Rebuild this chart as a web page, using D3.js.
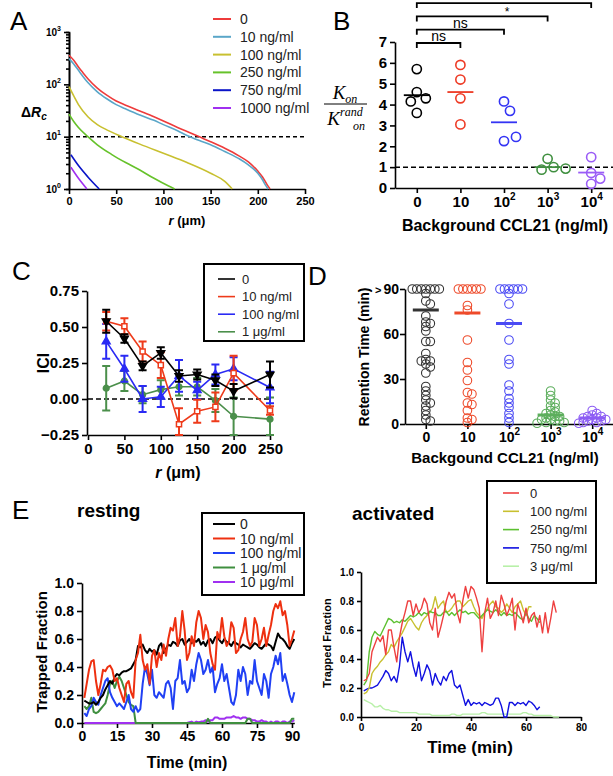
<!DOCTYPE html>
<html>
<head>
<meta charset="utf-8">
<script src="https://cdn.jsdelivr.net/npm/d3@7.9.0/dist/d3.min.js"></script>
<style>
  body { margin: 0; background: #fff; }
  svg { font-family: Arial, "Liberation Sans", Helvetica, sans-serif; }
</style>
</head>
<body>
<svg id="fig" width="613" height="776"></svg>
<script>
// ---------- data ----------
// Panel A: delta Rc vs r, one [r, value] list per background level
const aLabels = ['0', '10 ng/ml', '100 ng/ml', '250 ng/ml', '750 ng/ml', '1000 ng/ml'];
const aColors = ['#ee3b3b', '#5aa6c8', '#c8c030', '#66c22a', '#0a14c8', '#a030f0'];
const aCurve0 = [[0,360],[5,290],[10,215],[15,165],[20,128],[30,85],[40,62],[50,48],[60,40],[75,31],[90,24],[100,20],[115,15],[130,11.5],[140,9.6],[150,8],[165,6],[180,4.3],[190,3.3],[200,2.2],[205,1.7],[210,1.2],[213,1]];
const aCurve10 = [[0,310],[5,245],[10,185],[15,140],[20,108],[30,72],[40,53],[50,41],[60,34],[75,26],[90,20.5],[100,17],[115,13],[125,10.5],[140,8.2],[150,7],[165,5.2],[180,3.8],[190,2.9],[200,2],[205,1.5],[208,1.2],[211,1]];
const aCurve100 = [[0,90],[5,60],[10,41],[20,24],[30,17],[40,13.5],[56,10],[75,7.2],[100,4.8],[125,3.2],[150,2],[165,1.4],[173,1]];
const aCurve250 = [[0,27],[5,19.5],[10,15],[20,10],[30,7],[45,4.6],[60,3.2],[75,2.3],[90,1.6],[105,1.15],[112,1]];
const aCurve750 = [[2,4.5],[10,2.8],[20,1.7],[32,1]];
const aCurve1000 = [[2,2.6],[10,1.6],[19,1]];
const aCurves = [aCurve0, aCurve10, aCurve100, aCurve250, aCurve750, aCurve1000];

// Panel B: Kon / Kon_rand
const bCats = ['0', '10', '100', '1000', '10000'];
const bTicks = [['0',''],['10',''],['10','2'],['10','3'],['10','4']];
const bColors = ['#000000', '#ee3a24', '#3434f4', '#3f8f3f', '#9a5cf6'];
const bValues = [[5.7,4.6,4.3,4.15,3.6],[5.9,5.2,4.3,3.05],[4.15,3.7,2.25,2.45],[1.4,1.0,0.88,0.93],[1.48,0.72,0.2,0.45]];
const bMeans = [4.45, 4.6, 3.15, 1.0, 0.74];
const bBrackets = [['0','10','ns'],['0','100','ns'],['0','1000',''],['0','10000','*']];

// Panel C: ICI vs r
const cR = [25,50,75,100,125,150,175,200,250];
const cLabels = ['0', '10 ng/ml', '100 ng/ml', '1 \u03bcg/ml'];
const cColors = ['#000000', '#ee3a1a', '#2a2af4', '#4b8f4b'];
const cMean0 = [0.54,0.42,0.23,0.32,0.16,0.17,0.13,0.055,0.17];
const cErr0 = [0.08,0.03,0.03,0.04,0.04,0.035,0.04,0.05,0.09];
const cMean10 = [0.54,0.505,0.33,0.235,-0.175,-0.085,-0.055,0.18,-0.08];
const cErr10 = [0.065,0.055,0.07,0.09,0.11,0.08,0.1,0.12,0.03];
const cMean100 = [0.40,0.21,0.0,0.015,0.16,0.06,0.17,0.21,0.08];
const cErr100 = [0.12,0.09,0.09,0.07,0.11,0.06,0.07,0.08,0.11];
const cMean1ug = [0.075,0.125,0.03,0.065,0.085,0.085,-0.01,-0.12,-0.14];
const cErr1ug = [0.155,0.07,0.06,0.065,0.06,0.06,0.08,0.13,0.15];

// Panel D: retention time
const dCats = ['0', '10', '100', '1000', '10000'];
const dColors = ['#333333', '#ee4a2a', '#4a4af4', '#5cae5c', '#8c5cf4'];
const dBlack = [90,90,90,90,90,90,90,87,82,80,72,68,67,65,62,55,55,47,43,42,42,40,38,34,25,22,19,16,14,12,9,6,3,2];
const dRed = [90,90,90,90,90,90,79,76,56,41,36,29,21,20,14,13,9,4,3,1];
const dBlue = [90,90,90,90,90,90,87,80,67,56,43,40,26,22,17,14,11,7,4,1];
const dGreen = [22,19,16,14,12,11,9,8,7,6,5,5,4,3,3,2,2,1,1,0.5];
const dPurple = [9,7,6,5,5,4,4,3,3,2,2,1,1,0.5];
const dMeans = [76, 74, 67, 6, 4];

// Panel E resting: trapped fraction, one value per minute from t = 1
const eRestLabels = ['0', '10 ng/ml', '100 ng/ml', '1 \u03bcg/ml', '10 \u03bcg/ml'];
const eRestColors = ['#000000', '#ee3010', '#2040f4', '#3f8f3f', '#a030f0'];
const eRest0 = [0.16,0.15,0.14,0.14,0.15,0.13,0.15,0.18,0.2,0.24,
  0.27,0.3,0.28,0.33,0.35,0.34,0.36,0.37,0.37,0.38,
  0.39,0.42,0.45,0.55,0.54,0.56,0.52,0.5,0.53,0.51,
  0.52,0.49,0.55,0.57,0.5,0.53,0.56,0.55,0.58,0.57,
  0.55,0.59,0.6,0.56,0.58,0.6,0.57,0.59,0.58,0.6,
  0.56,0.58,0.55,0.59,0.6,0.57,0.61,0.62,0.59,0.57,
  0.6,0.58,0.57,0.55,0.58,0.57,0.56,0.54,0.56,0.55,
  0.54,0.53,0.55,0.57,0.56,0.54,0.53,0.55,0.57,0.56,
  0.55,0.52,0.58,0.64,0.61,0.6,0.58,0.55,0.53,0.57,0.6];
const eRest10 = [0.18,0.28,0.38,0.44,0.45,0.3,0.2,0.28,0.38,0.37,
  0.4,0.41,0.38,0.3,0.32,0.25,0.2,0.15,0.28,0.3,
  0.22,0.18,0.45,0.5,0.63,0.45,0.38,0.42,0.28,0.48,
  0.52,0.4,0.5,0.45,0.56,0.48,0.6,0.68,0.66,0.75,
  0.55,0.62,0.8,0.66,0.45,0.5,0.62,0.55,0.72,0.8,
  0.75,0.6,0.7,0.65,0.5,0.42,0.38,0.65,0.6,0.75,
  0.62,0.55,0.58,0.72,0.68,0.5,0.52,0.6,0.65,0.75,
  0.6,0.55,0.58,0.75,0.7,0.55,0.6,0.68,0.55,0.63,
  0.7,0.8,0.85,0.82,0.87,0.77,0.8,0.7,0.55,0.6,0.66];
const eRest100 = [0.07,0.05,0.1,0.12,0.18,0.15,0.13,0.2,0.25,0.3,
  0.32,0.22,0.18,0.15,0.12,0.14,0.12,0.1,0.15,0.2,
  0.1,0.08,0.12,0.08,0.1,0.28,0.4,0.35,0.27,0.38,
  0.2,0.18,0.22,0.2,0.18,0.28,0.3,0.25,0.1,0.3,
  0.32,0.45,0.28,0.3,0.22,0.25,0.38,0.3,0.42,0.5,
  0.45,0.35,0.38,0.45,0.36,0.4,0.22,0.28,0.32,0.42,
  0.3,0.35,0.25,0.15,0.13,0.2,0.38,0.3,0.4,0.35,
  0.2,0.3,0.28,0.45,0.3,0.25,0.2,0.35,0.3,0.18,
  0.35,0.4,0.48,0.42,0.5,0.3,0.35,0.28,0.2,0.15,0.22];
const eRest1ug = [0.12,0.1,0.12,0.18,0.08,0.07,0.08,0.1,0.12,0.14,
  0.2,0.28,0.3,0.25,0.3,0.33,0.3,0.25,0.2,0.15,
  0.13,0.12,0,0,0,0,0,0,0,0,
  0,0,0,0,0,0,0,0,0,0,
  0,0,0,0,0,0,0,0,0,0,
  0,0,0,0.03,0,0,0,0,0,0,
  0,0,0,0,0,0,0,0,0,0,
  0.03,0.03,0,0,0,0,0,0,0,0,
  0,0,0,0,0,0,0,0,0,0.03,0.03];
const eRest10ug = [0,0,0,0,0,0,0,0,0,0,
  0,0,0,0,0,0,0,0,0,0,
  0,0,0,0,0,0,0,0,0,0,
  0,0,0,0,0,0,0,0,0,0,
  0,0,0,0,0,0.005,0.01,0,0.01,0.005,
  0.01,0.01,0.02,0.01,0.02,0.02,0.04,0.04,0.03,0.03,
  0.03,0.04,0.04,0.04,0.05,0.04,0.04,0.03,0.04,0.04,
  0.03,0.03,0.02,0.02,0.01,0.01,0.02,0.01,0.01,0,
  0.01,0,0.01,0.01,0,0.01,0.01,0,0.01,0.01,0.02];
const eRestSeries = [eRest0, eRest10, eRest100, eRest1ug, eRest10ug];

// Panel E activated
const eActLabels = ['0', '100 ng/ml', '250 ng/ml', '750 ng/ml', '3 \u03bcg/ml'];
const eActColors = ['#ee4040', '#c8c030', '#5cc030', '#1010e0', '#b8f0a8'];
const eAct0 = [0.25,0.26,0.3,0.45,0.5,0.55,0.52,0.56,0.43,0.6,
  0.6,0.48,0.38,0.55,0.65,0.72,0.8,0.8,0.7,0.78,
  0.72,0.75,0.82,0.78,0.65,0.6,0.75,0.55,0.62,0.7,
  0.8,0.86,0.82,0.85,0.72,0.65,0.8,0.9,0.82,0.9,
  0.88,0.82,0.75,0.45,0.72,0.82,0.68,0.72,0.8,0.7,
  0.84,0.78,0.7,0.75,0.82,0.6,0.78,0.72,0.65,0.75,
  0.65,0.7,0.72,0.62,0.7,0.58,0.72,0.58,0.68,0.8,0.72];
const eAct100 = [0.16,0.17,0.2,0.3,0.33,0.35,0.38,0.4,0.43,0.45,
  0.5,0.48,0.52,0.55,0.58,0.62,0.66,0.68,0.65,0.62,
  0.6,0.65,0.68,0.7,0.72,0.75,0.83,0.75,0.78,0.8,
  0.72,0.73,0.75,0.78,0.8,0.8,0.76,0.78,0.8,0.81,
  0.76,0.72,0.7,0.68,0.72,0.75,0.78,0.8,0.76,0.75,
  0.72,0.74,0.78,0.75,0.72,0.76,0.78,0.8,0.74,0.7,0.76,0.76];
const eAct250 = [0.22,0.25,0.45,0.55,0.59,0.57,0.56,0.6,0.64,0.68,
  0.67,0.65,0.66,0.65,0.67,0.66,0.68,0.7,0.69,0.7,
  0.72,0.7,0.72,0.71,0.73,0.72,0.72,0.7,0.7,0.72,
  0.73,0.7,0.72,0.7,0.72,0.74,0.72,0.73,0.71,0.72,
  0.72,0.7,0.68,0.7,0.72,0.74,0.73,0.72,0.74,0.72,
  0.7,0.72,0.7,0.71,0.7,0.72,0.7,0.68,0.67,0.72,
  0.68,0.66,0.7,0.68,0.65];
const eAct750 = [0.18,0.19,0.2,0.2,0.21,0.22,0.25,0.28,0.32,0.3,
  0.25,0.28,0.24,0.35,0.55,0.45,0.38,0.45,0.35,0.28,
  0.38,0.25,0.3,0.36,0.32,0.22,0.3,0.25,0.22,0.28,
  0.25,0.3,0.32,0.22,0.2,0.22,0.15,0.08,0.12,0.08,
  0.1,0.09,0.1,0.08,0.1,0.09,0.08,0.09,0.13,0.13,
  0.08,0,0,0.1,0.1,0.08,0.1,0.09,0.1,0.08,
  0.11,0.1,0.08,0.05,0.07];
const eAct3ug = [0.12,0.11,0.1,0.09,0.07,0.07,0.08,0.06,0.05,0.05,
  0.04,0.04,0.04,0.03,0.03,0.03,0.03,0.03,0.03,0.03,
  0.02,0.02,0.02,0.02,0.02,0.01,0.01,0.01,0.01,0.01,
  0.01,0.01,0.02,0.02,0.01,0.01,0.02,0.02,0.02,0.02,
  0.02,0.02,0.02,0.03,0.03,0.02,0.02,0.02,0.02,0.02,
  0.02,0.02,0.02,0.02,0.02,0.02,0.02,0.02,0.03,0.03,
  0.02,0.02,0.01,0.01,0.01,0.01,0.01,0.01,0.01,0,0,0];
const eActSeries = [eAct0, eAct100, eAct250, eAct750, eAct3ug];

// ---------- helpers ----------
const svg = d3.select('#fig');
const FONT = 'Arial, "Liberation Sans", Helvetica, sans-serif';

function styleAxis(g, size, weight) {
  g.attr('font-family', FONT);
  g.select('.domain').attr('stroke', '#000').attr('stroke-width', 1.6);
  g.selectAll('.tick line').attr('stroke', '#000').attr('stroke-width', 1.6);
  g.selectAll('.tick text').attr('font-size', size).attr('font-weight', weight).attr('fill', '#000');
}

function supText(sel, base, exp, supSize) {
  sel.text(null);
  sel.append('tspan').text(base);
  if (exp) sel.append('tspan').attr('dy', -supSize * 0.7).attr('font-size', supSize).text(exp);
}

function addText(x, y, txt, size, weight, anchor) {
  return svg.append('text').attr('x', x).attr('y', y).attr('font-size', size)
    .attr('font-weight', weight || 'normal').attr('text-anchor', anchor || 'start')
    .attr('font-family', FONT).attr('fill', '#000').text(txt);
}

function drawLegend(labels, colors, x1, x2, tx, y0, dy, size, sw) {
  labels.forEach((lab, i) => {
    const y = y0 + i * dy;
    svg.append('line').attr('x1', x1).attr('x2', x2).attr('y1', y).attr('y2', y)
      .attr('stroke', colors[i]).attr('stroke-width', sw);
    addText(tx, y + size * 0.36, lab, size, 'normal').attr('fill', '#222');
  });
}

// place points of one column so they do not overlap too much
function swarm(values, yScale, cx, minDist, step) {
  const placed = [];
  values.forEach(v => {
    const y = yScale(v);
    for (let k = 0; k < 40; k++) {
      const off = k === 0 ? 0 : Math.ceil(k / 2) * step * (k % 2 ? 1 : -1);
      const x = cx + off;
      if (placed.every(p => Math.hypot(p.x - x, p.y - y) >= minDist - 0.01)) {
        placed.push({ x, y, v });
        break;
      }
    }
  });
  return placed;
}

// ---------- Panel A ----------
const xA = d3.scaleLinear().domain([0, 250]).range([69, 305]);
const yA = d3.scaleLog().domain([1, 1000]).range([189, 32]);

const minorA = [];
[1, 10, 100].forEach(b => d3.range(2, 10).forEach(m => minorA.push(b * m)));
svg.append('g').attr('transform', 'translate(69,0)')
  .call(d3.axisLeft(yA).tickValues(minorA).tickSize(3).tickFormat(''))
  .call(g => styleAxis(g, 10, 'bold'));
svg.append('g').attr('transform', 'translate(69,0)')
  .call(d3.axisLeft(yA).tickValues([1, 10, 100, 1000]).tickSize(5).tickSizeOuter(0))
  .call(g => styleAxis(g, 10, 'bold'))
  .call(g => g.selectAll('.tick text').each(function(d) {
    supText(d3.select(this), '10', String(Math.round(Math.log10(d))), 7);
  }));
svg.append('g').attr('transform', 'translate(0,189)')
  .call(d3.axisBottom(xA).tickValues([0, 50, 100, 150, 200, 250]).tickSize(5).tickSizeOuter(0))
  .call(g => styleAxis(g, 11, 'bold'));

svg.append('line').attr('x1', xA(0)).attr('x2', xA(250)).attr('y1', yA(10)).attr('y2', yA(10))
  .attr('stroke', '#000').attr('stroke-width', 1.5).attr('stroke-dasharray', '4,3');

const lineA = d3.line().x(d => xA(d[0])).y(d => yA(d[1])).curve(d3.curveMonotoneX);
aCurves.forEach((c, i) => {
  svg.append('path').attr('d', lineA(c)).attr('fill', 'none')
    .attr('stroke', aColors[i]).attr('stroke-width', 1.6);
});

drawLegend(aLabels, aColors, 213, 231, 240, 19, 17.8, 14, 2);
addText(10, 30, 'A', 26, 'normal');
const aY = addText(21, 117, '\u0394', 14, 'bold');
aY.append('tspan').attr('font-style', 'italic').text('R');
aY.append('tspan').attr('font-style', 'italic').attr('font-size', 10).attr('dy', 3).text('c');
const aX = addText(187, 225, '', 13, 'bold', 'middle');
aX.append('tspan').attr('font-style', 'italic').text('r');
aX.append('tspan').text(' (\u03bcm)');

// ---------- Panel B ----------
const xB = d3.scalePoint().domain(bCats).range([395, 613]).padding(0.5);
const yB = d3.scaleLinear().domain([0, 7]).range([188, 42]);

svg.append('g').attr('transform', 'translate(395,0)')
  .call(d3.axisLeft(yB).ticks(7).tickSize(5).tickSizeOuter(0))
  .call(g => styleAxis(g, 15, 'bold'));
svg.append('g').attr('transform', 'translate(0,188)')
  .call(d3.axisBottom(xB).tickSize(5).tickSizeOuter(0))
  .call(g => styleAxis(g, 15, 'bold'))
  .call(g => g.selectAll('.tick text').each(function(d, i) {
    supText(d3.select(this), bTicks[i][0], bTicks[i][1], 10);
  }));

svg.append('line').attr('x1', 395).attr('x2', 613).attr('y1', yB(1)).attr('y2', yB(1))
  .attr('stroke', '#000').attr('stroke-width', 1.5).attr('stroke-dasharray', '5,3');

bCats.forEach((c, i) => {
  const pts = swarm(bValues[i], yB, xB(c), 10, 3);
  svg.append('g').selectAll('circle').data(pts).join('circle')
    .attr('cx', d => d.x).attr('cy', d => d.y).attr('r', 4.6)
    .attr('fill', 'none').attr('stroke', bColors[i]).attr('stroke-width', 1.6);
  svg.append('line').attr('x1', xB(c) - 13).attr('x2', xB(c) + 13)
    .attr('y1', yB(bMeans[i])).attr('y2', yB(bMeans[i]))
    .attr('stroke', bColors[i]).attr('stroke-width', 1.8);
});

bBrackets.forEach((b, i) => {
  const y = 43 - i * 13.3;
  const x0 = xB(b[0]), x1 = xB(b[1]);
  svg.append('path').attr('d', `M${x0},${y + 5}V${y}H${x1}V${y + 5}`)
    .attr('fill', 'none').attr('stroke', '#000').attr('stroke-width', 1.8);
  if (b[2] === 'ns') addText((x0 + x1) / 2, y - 2, 'ns', 14, 'normal', 'middle');
  if (b[2] === '*') addText((x0 + x1) / 2 + 3, y + 13, '*', 12, 'normal', 'middle');
});

addText(333, 30, 'B', 26, 'normal');
const SERIF = '"Liberation Serif", "DejaVu Serif", serif';
const bNum = svg.append('text').attr('x', 345).attr('y', 99).attr('text-anchor', 'middle')
  .attr('font-family', SERIF).attr('font-style', 'italic').attr('font-size', 19);
bNum.append('tspan').text('K');
bNum.append('tspan').attr('font-size', 12).attr('dy', 4).text('on');
svg.append('line').attr('x1', 324).attr('x2', 367).attr('y1', 104).attr('y2', 104)
  .attr('stroke', '#000').attr('stroke-width', 1);
const bDen = svg.append('text').attr('x', 345).attr('y', 125).attr('text-anchor', 'middle')
  .attr('font-family', SERIF).attr('font-style', 'italic').attr('font-size', 19);
bDen.append('tspan').text('K');
bDen.append('tspan').attr('font-size', 12).attr('dy', -9).text('rand');
bDen.append('tspan').attr('font-size', 12).attr('x', 353).attr('dy', 14).attr('text-anchor', 'start').text('on');
addText(505, 231, 'Background CCL21 (ng/ml)', 16, 'bold', 'middle');

// ---------- Panel C ----------
const xC = d3.scaleLinear().domain([0, 250]).range([88, 270]);
const yC = d3.scaleLinear().domain([-0.25, 0.75]).range([435, 291]);

svg.append('g').attr('transform', 'translate(87,0)')
  .call(d3.axisLeft(yC).tickValues([-0.25, 0, 0.25, 0.5, 0.75]).tickFormat(d3.format('.2f')).tickSize(5).tickSizeOuter(0))
  .call(g => styleAxis(g, 15, 'bold'));
svg.append('g').attr('transform', 'translate(0,435)')
  .call(d3.axisBottom(xC).tickValues([0, 50, 100, 150, 200, 250]).tickSize(5).tickSizeOuter(0))
  .call(g => styleAxis(g, 15, 'bold'));

svg.append('line').attr('x1', 88).attr('x2', 270).attr('y1', yC(0)).attr('y2', yC(0))
  .attr('stroke', '#000').attr('stroke-width', 1.5).attr('stroke-dasharray', '5,3');

const cSeries = [
  { m: cMean1ug, e: cErr1ug, c: 3, sym: d3.symbolCircle, fill: true, rot: 0 },
  { m: cMean100, e: cErr100, c: 2, sym: d3.symbolTriangle, fill: true, rot: 0 },
  { m: cMean10, e: cErr10, c: 1, sym: d3.symbolSquare, fill: false, rot: 0 },
  { m: cMean0, e: cErr0, c: 0, sym: d3.symbolTriangle, fill: true, rot: 180 }
];
const lineC = d3.line().x((d, i) => xC(cR[i])).y(d => yC(d));
const clampC = v => Math.max(-0.25, Math.min(0.75, v));
cSeries.forEach(s => {
  const col = cColors[s.c];
  const g = svg.append('g');
  g.append('path').attr('d', lineC(s.m)).attr('fill', 'none').attr('stroke', col).attr('stroke-width', 1.6);
  s.m.forEach((v, i) => {
    const x = xC(cR[i]);
    const yt = yC(clampC(v + s.e[i])), yb = yC(clampC(v - s.e[i]));
    g.append('path').attr('d', `M${x},${yt}V${yb}M${x - 4},${yt}H${x + 4}M${x - 4},${yb}H${x + 4}`)
      .attr('stroke', col).attr('stroke-width', 2).attr('fill', 'none');
    g.append('path').attr('d', d3.symbol(s.sym, 26)())
      .attr('transform', `translate(${x},${yC(v)}) rotate(${s.rot})`)
      .attr('fill', s.fill ? col : '#fff').attr('stroke', col).attr('stroke-width', 1.5);
  });
});

svg.append('rect').attr('x', 204).attr('y', 264).attr('width', 100).attr('height', 77)
  .attr('fill', '#fff').attr('stroke', '#000').attr('stroke-width', 2);
drawLegend(cLabels, cColors, 218, 235, 242, 279, 17.6, 13, 1.6);
addText(12, 280, 'C', 26, 'normal');
addText(0, 0, 'ICI', 16, 'bold', 'middle').attr('transform', 'translate(49,363) rotate(-90)');
const cX = addText(178, 478, '', 16, 'bold', 'middle');
cX.append('tspan').attr('font-style', 'italic').text('r');
cX.append('tspan').text(' (\u03bcm)');

// ---------- Panel D ----------
const xD = d3.scalePoint().domain(dCats).range([405, 613]).padding(0.5);
const yD = d3.scaleLinear().domain([0, 90]).range([424, 289]);

svg.append('g').attr('transform', 'translate(405,0)')
  .call(d3.axisLeft(yD).tickValues([0, 30, 60, 90]).tickSize(5).tickPadding(1).tickSizeOuter(0))
  .call(g => styleAxis(g, 14, 'bold'))
  .call(g => g.selectAll('.tick text').filter(d => d === 90).each(function() {
    const t = d3.select(this);
    t.text(null);
    t.append('tspan').attr('font-size', 11).text('>');
    t.append('tspan').attr('dx', 2).text('90');
  }));
svg.append('g').attr('transform', 'translate(0,424)')
  .call(d3.axisBottom(xD).tickSize(5).tickSizeOuter(0))
  .call(g => styleAxis(g, 14, 'bold'))
  .call(g => g.selectAll('.tick text').each(function(d, i) {
    supText(d3.select(this), bTicks[i][0], bTicks[i][1], 10);
  }));

[dBlack, dRed, dBlue, dGreen, dPurple].forEach((vals, i) => {
  const pts = swarm(vals, yD, xD(dCats[i]), 4.5, 4.5);
  svg.append('g').selectAll('circle').data(pts).join('circle')
    .attr('cx', d => d.x).attr('cy', d => d.y).attr('r', 4.3)
    .attr('fill', 'none').attr('stroke', dColors[i]).attr('stroke-width', 1.1);
  svg.append('line').attr('x1', xD(dCats[i]) - 13).attr('x2', xD(dCats[i]) + 13)
    .attr('y1', yD(dMeans[i])).attr('y2', yD(dMeans[i]))
    .attr('stroke', dColors[i]).attr('stroke-width', 3);
});

addText(308, 285, 'D', 26, 'normal');
addText(0, 0, 'Retention Time (min)', 14, 'bold', 'middle').attr('transform', 'translate(369,357) rotate(-90)');
addText(505, 463, 'Backgound CCL21 (ng/ml)', 15, 'bold', 'middle');

// ---------- Panel E resting ----------
const xE1 = d3.scaleLinear().domain([0, 91]).range([82, 294.3]);
const yE1 = d3.scaleLinear().domain([0, 1]).range([723, 583]);

svg.append('g').attr('transform', 'translate(82,0)')
  .call(d3.axisLeft(yE1).tickValues([0, 0.2, 0.4, 0.6, 0.8, 1]).tickFormat(d3.format('.1f')).tickSize(5).tickSizeOuter(0))
  .call(g => styleAxis(g, 14, 'bold'));
svg.append('g').attr('transform', 'translate(0,723)')
  .call(d3.axisBottom(xE1).tickValues([0, 15, 30, 45, 60, 75, 90]).tickSize(5).tickSizeOuter(0))
  .call(g => styleAxis(g, 14, 'bold'));

const lineE1 = d3.line().x((d, i) => xE1(i + 1)).y(d => yE1(d));
[4, 3, 2, 0, 1].forEach(k => {
  svg.append('path').attr('d', lineE1(eRestSeries[k])).attr('fill', 'none')
    .attr('stroke', eRestColors[k]).attr('stroke-width', 2).attr('stroke-linejoin', 'round');
});

svg.append('rect').attr('x', 202).attr('y', 513).attr('width', 102).attr('height', 82)
  .attr('fill', '#fff').attr('stroke', '#000').attr('stroke-width', 2);
drawLegend(eRestLabels, eRestColors, 213, 235, 240, 524, 14.5, 14, 2);
addText(12, 519, 'E', 26, 'normal');
addText(77, 517, 'resting', 19, 'bold');
addText(0, 0, 'Trapped Fraction', 15, 'bold', 'middle').attr('transform', 'translate(47,652) rotate(-90)');
addText(187, 768, 'Time (min)', 16, 'bold', 'middle');

// ---------- Panel E activated ----------
const xE2 = d3.scaleLinear().domain([0, 80]).range([361, 581]);
const yE2 = d3.scaleLinear().domain([0, 1]).range([717, 572]);

svg.append('g').attr('transform', 'translate(361,0)')
  .call(d3.axisLeft(yE2).tickValues([0, 0.2, 0.4, 0.6, 0.8, 1]).tickFormat(d3.format('.1f')).tickSize(4).tickSizeOuter(0))
  .call(g => styleAxis(g, 10, 'bold'));
svg.append('g').attr('transform', 'translate(0,717)')
  .call(d3.axisBottom(xE2).tickValues([0, 20, 40, 60, 80]).tickSize(4).tickSizeOuter(0))
  .call(g => styleAxis(g, 10, 'bold'));

const lineE2 = d3.line().x((d, i) => xE2(i + 1)).y(d => yE2(d));
[4, 3, 1, 2, 0].forEach(k => {
  svg.append('path').attr('d', lineE2(eActSeries[k])).attr('fill', 'none')
    .attr('stroke', eActColors[k]).attr('stroke-width', 1.4).attr('stroke-linejoin', 'round');
});

svg.append('rect').attr('x', 487).attr('y', 481).attr('width', 109).attr('height', 102)
  .attr('fill', '#fff').attr('stroke', '#000').attr('stroke-width', 2);
drawLegend(eActLabels, eActColors, 503, 519, 530, 493, 18.3, 13, 1.6);
addText(352, 520, 'activated', 19, 'bold');
addText(0, 0, 'Trapped Fraction', 11, 'bold', 'middle').attr('transform', 'translate(331,643) rotate(-90)');
addText(470, 753, 'Time (min)', 17, 'bold', 'middle');
</script>
</body>
</html>
